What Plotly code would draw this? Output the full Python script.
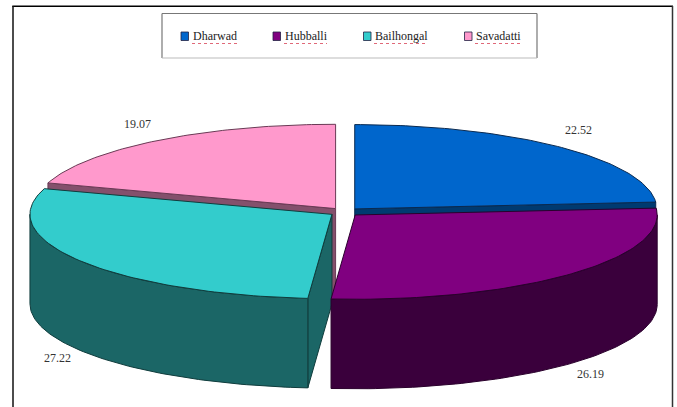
import numpy as np
import plotly.graph_objects as go

categories = ["Dharwad", "Hubballi", "Bailhongal", "Savadatti"]
values = [22.52, 26.19, 27.22, 19.07]
top_colors = ["#0066CC", "#800080", "#33CCCC", "#FF99CC"]
wall_colors = ["#003A70", "#3A003C", "#1B6666", "#84506C"]
edge_colors = ["#0A2A50", "#2A002C", "#0F3C3C", "#6A3A55"]
label_pos = [(578, 130), (590, 374), (57, 358), (137, 124)]
legend_swatch_x = [181, 273, 363.5, 464.5]
legend_text_x = [192, 284, 374, 475]
legend_text_w = [45, 43, 53, 46]

CX, CY, RX, RY, DEPTH, EXPLODE = 344.5, 212.0, 302.0, 84.3, 89.5, 0.05

vals = np.array(values, dtype=float)
edges = np.concatenate([[0], np.cumsum(vals) / vals.sum() * 2 * np.pi])


def arc(a0, a1, cx, cy, n=80):
    t = np.linspace(a0, a1, n)
    return cx + RX * np.sin(t), cy - RY * np.cos(t)


fig = go.Figure()


def poly(x, y, fill, line):
    fig.add_trace(go.Scatter(
        x=list(x), y=list(y), mode="lines", fill="toself", fillcolor=fill,
        line=dict(color=line, width=1), hoverinfo="skip", showlegend=False))


def centre(i):
    mid = (edges[i] + edges[i + 1]) / 2
    return CX + EXPLODE * RX * np.sin(mid), CY - EXPLODE * RY * np.cos(mid)


def radial_wall(i, angle):
    cx, cy = centre(i)
    ex, ey = cx + RX * np.sin(angle), cy - RY * np.cos(angle)
    poly([cx, ex, ex, cx, cx], [cy, ey, ey + DEPTH, cy + DEPTH, cy],
         wall_colors[i], edge_colors[i])


def outer_wall(i):
    cx, cy = centre(i)
    a0 = max(edges[i], np.pi / 2)
    a1 = min(edges[i + 1], 3 * np.pi / 2)
    if a1 <= a0:
        return
    x, y = arc(a0, a1, cx, cy)
    poly(np.r_[x, x[::-1], x[0]], np.r_[y, y[::-1] + DEPTH, y[0]],
         wall_colors[i], edge_colors[i])


def top(i):
    cx, cy = centre(i)
    x, y = arc(edges[i], edges[i + 1], cx, cy)
    poly(np.r_[cx, x, cx], np.r_[cy, y, cy], top_colors[i], edge_colors[i])


# back slices first, front slices over them
radial_wall(3, edges[3])
top(3)
radial_wall(0, edges[1])
top(0)
radial_wall(2, edges[2])
outer_wall(2)
top(2)
outer_wall(1)
top(1)

shapes = [
    # outer frame (open at the bottom)
    dict(type="line", x0=12.3, x1=673, y0=6.3, y1=6.3, line=dict(color="#000000", width=1.5)),
    dict(type="line", x0=13, x1=13, y0=6, y1=407, line=dict(color="#111111", width=1.5)),
    dict(type="line", x0=672.5, x1=672.5, y0=6, y1=407, line=dict(color="#333333", width=1.5)),
    # legend box
    dict(type="line", x0=162, x1=537, y0=13.5, y1=13.5, line=dict(color="#777777", width=1.2)),
    dict(type="line", x0=162, x1=162, y0=13.5, y1=58, line=dict(color="#777777", width=1.2)),
    dict(type="line", x0=537, x1=537, y0=13.5, y1=58, line=dict(color="#777777", width=1.2)),
    dict(type="line", x0=162, x1=537, y0=58, y1=58, line=dict(color="#BBBBBB", width=1)),
]
annotations = []
for i, name in enumerate(categories):
    sx = legend_swatch_x[i]
    shapes.append(dict(type="rect", x0=sx, x1=sx + 7.5, y0=32, y1=40.5,
                       fillcolor=top_colors[i], line=dict(color="#222244", width=0.8)))
    annotations.append(dict(x=legend_text_x[i], y=36, text=name, showarrow=False,
                            xanchor="left", yanchor="middle", xshift=-1,
                            font=dict(family="Liberation Serif", size=12, color="#222222")))
    shapes.append(dict(type="line", x0=legend_text_x[i], x1=legend_text_x[i] + legend_text_w[i],
                       y0=43.5, y1=43.5, line=dict(color="#E06878", width=1, dash="dot")))
    lx, ly = label_pos[i]
    annotations.append(dict(x=lx, y=ly, text=f"{values[i]:.2f}", showarrow=False,
                            font=dict(family="Liberation Serif", size=12, color="#333333")))

fig.update_layout(
    width=677, height=407, margin=dict(l=0, r=0, t=0, b=0),
    paper_bgcolor="white", plot_bgcolor="white", showlegend=False,
    xaxis=dict(range=[0, 677], visible=False, fixedrange=True),
    yaxis=dict(range=[407, 0], visible=False, fixedrange=True),
    shapes=shapes, annotations=annotations,
)
fig.write_html(
    "out.html",
    config={"displayModeBar": False},
    post_script="document.body.style.margin='0';document.body.style.overflow='hidden';",
)
